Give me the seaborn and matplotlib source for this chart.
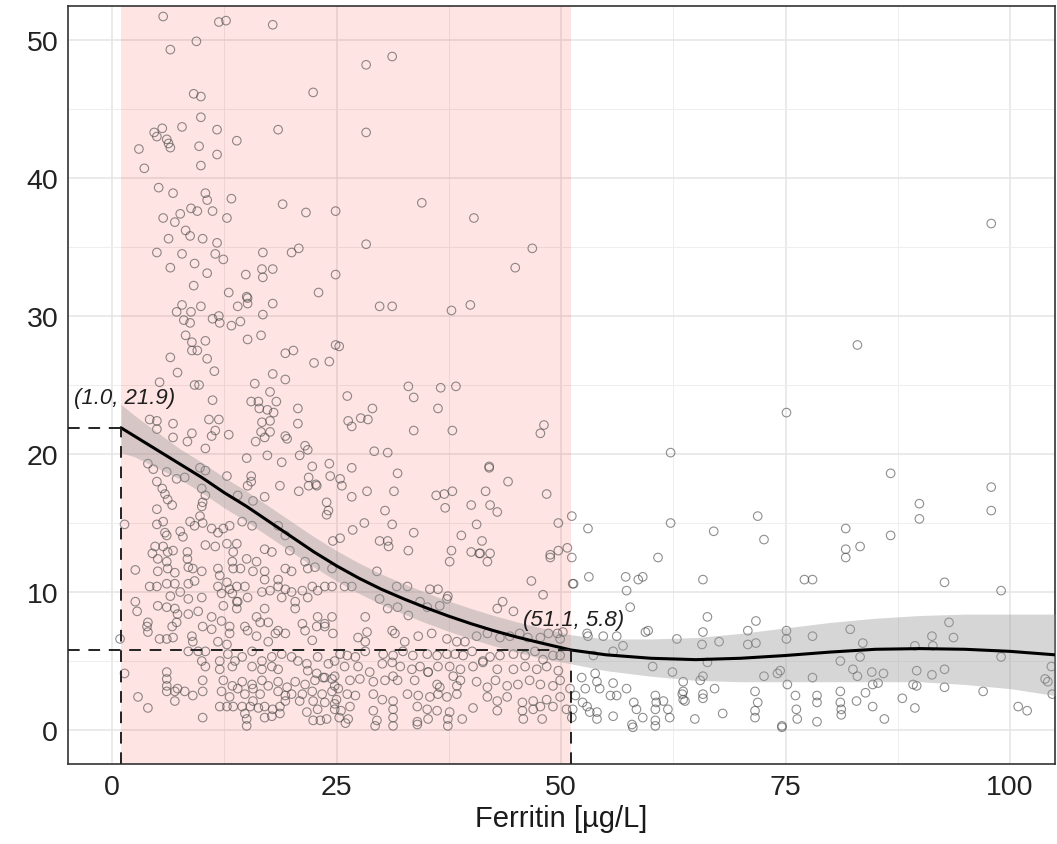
import matplotlib
matplotlib.use("Agg")
import matplotlib.pyplot as plt
import pandas as pd
import seaborn as sns

# ---------------- data ----------------
# scattered observations (ferritin, value)
pts_upper = [
    (5.7, 51.7), (11.9, 51.3), (12.7, 51.4), (17.9, 51.1), (9.4, 49.9), (6.5, 49.3), (9.1, 46.1), (9.9, 45.9),
    (22.4, 46.2), (9.9, 44.4), (5.6, 43.6), (4.7, 43.3), (5.0, 43.0), (6.1, 42.8), (6.3, 42.5), (6.5, 42.2),
    (7.8, 43.7), (11.7, 43.5), (13.9, 42.7), (18.5, 43.5), (3.0, 42.1), (9.7, 42.3), (11.7, 41.7), (3.6, 40.7),
    (9.9, 40.9), (5.2, 39.3), (6.8, 38.9), (10.4, 38.9), (10.6, 38.4), (13.3, 38.5), (19.0, 38.1), (8.8, 37.8),
    (9.5, 37.6), (7.6, 37.4), (11.2, 37.6), (21.6, 37.5), (24.9, 37.6), (5.7, 37.1), (7.0, 36.8), (12.8, 37.1),
    (8.2, 36.2), (8.7, 35.8), (6.3, 35.6), (10.1, 35.6), (11.7, 35.3), (5.0, 34.6), (7.8, 34.5), (11.5, 34.5),
    (16.8, 34.6), (12.4, 34.1), (20.0, 34.6), (20.8, 34.9), (9.2, 33.8), (6.5, 33.5), (10.6, 33.1), (14.9, 33.0),
    (16.7, 33.4), (17.9, 33.4), (16.8, 32.8), (24.9, 33.0), (9.1, 32.2), (13.0, 31.7), (15.0, 31.4), (23.0, 31.7),
    (15.1, 31.3), (15.1, 30.9), (14.0, 30.7), (17.9, 30.9), (7.8, 30.8), (7.2, 30.3), (8.8, 30.3), (9.9, 30.7),
    (8.0, 29.7), (8.7, 29.5), (11.2, 29.8), (11.9, 30.0), (12.0, 29.5), (13.3, 29.3), (14.3, 29.6), (16.8, 30.1),
    (8.2, 28.6), (8.9, 28.1), (10.4, 28.2), (8.9, 27.5), (9.5, 27.5), (15.1, 28.3), (16.6, 28.6), (6.5, 27.0),
    (10.6, 26.9), (19.3, 27.3), (20.2, 27.5), (22.5, 26.6), (24.2, 26.7), (24.9, 27.9), (25.3, 27.8), (7.3, 25.9),
    (11.4, 26.0), (17.9, 25.8), (19.3, 25.4), (5.3, 25.2), (15.9, 25.1),
    (34.5, 38.2), (40.3, 37.1), (28.3, 35.2), (46.8, 34.9), (44.9, 33.5), (29.8, 30.7), (31.2, 30.7), (37.8, 30.4),
    (39.9, 30.8), (28.3, 48.2), (31.2, 48.8), (28.3, 43.3), (97.9, 36.7), (83.0, 27.9),
]

pts_middle = [
    (9.2, 25.0), (9.7, 25.0), (11.2, 23.9), (17.6, 24.5), (15.5, 23.8), (16.3, 23.8), (18.3, 23.8), (16.4, 23.3),
    (17.3, 23.2), (18.0, 23.0), (20.7, 23.3), (4.2, 22.5), (5.0, 22.4), (6.8, 22.2), (10.8, 22.5), (11.9, 22.5),
    (16.7, 22.3), (17.6, 22.4), (20.7, 22.2), (5.0, 21.8), (11.5, 21.7), (16.6, 21.6), (17.6, 21.6), (8.9, 21.5),
    (6.8, 21.2), (8.4, 20.9), (11.1, 21.3), (13.0, 21.4), (16.0, 20.9), (17.0, 21.2), (19.3, 21.3), (19.5, 21.1),
    (10.4, 20.4), (21.5, 20.6), (21.8, 20.3), (15.0, 19.7), (17.3, 19.9), (20.9, 19.9), (18.9, 19.4), (22.3, 19.1),
    (24.2, 19.3), (4.0, 19.3), (4.6, 18.9), (6.1, 18.7), (7.2, 18.2), (8.1, 18.3), (9.8, 19.0), (10.4, 18.8),
    (12.8, 18.4), (15.5, 18.4), (21.9, 18.3), (22.7, 17.8), (24.3, 18.4), (25.4, 18.2), (25.6, 17.7), (5.0, 18.0),
    (5.6, 17.5), (5.9, 17.1), (6.2, 16.7), (6.7, 16.3), (10.0, 17.5), (10.4, 17.0), (10.1, 16.5), (15.1, 17.7),
    (15.5, 18.0), (18.7, 17.7), (20.8, 17.3), (21.9, 17.7), (22.8, 17.7), (14.0, 17.0), (17.0, 16.9), (5.0, 16.0),
    (10.0, 16.2), (15.7, 16.6), (23.9, 16.5), (24.1, 15.9), (23.9, 15.6), (9.8, 15.5), (1.4, 14.9), (5.0, 14.9),
    (5.7, 15.1), (5.9, 14.3), (6.1, 14.1), (7.6, 14.4), (7.9, 14.0), (8.7, 15.1), (9.2, 14.8), (10.1, 15.0),
    (11.1, 14.6), (11.8, 14.3), (12.4, 14.6), (13.1, 14.8), (14.5, 15.1), (15.6, 14.8), (18.5, 14.8), (19.3, 14.1),
    (24.6, 13.7), (25.4, 13.9), (4.8, 13.3), (5.7, 13.3), (6.2, 12.9), (6.8, 13.0), (8.4, 12.9), (10.4, 13.4),
    (11.5, 13.3), (12.8, 13.5), (13.9, 13.5), (13.5, 12.9), (17.0, 13.1), (17.8, 12.9), (19.8, 13.0), (4.5, 12.8),
    (33.0, 24.9), (36.6, 24.8), (38.3, 24.9), (26.2, 24.2), (33.6, 24.1), (29.0, 23.3), (36.3, 23.3), (26.3, 22.4),
    (26.7, 22.0), (27.7, 22.6), (28.5, 22.5), (33.6, 21.7), (37.9, 21.7), (48.1, 22.1), (47.7, 21.5), (29.2, 20.2),
    (30.7, 20.1), (26.7, 19.0), (31.8, 18.6), (42.0, 19.1), (42.0, 19.0), (44.1, 18.0), (28.4, 17.3), (26.7, 16.9),
    (31.4, 17.3), (36.1, 17.0), (37.0, 17.1), (37.9, 17.3), (37.1, 16.1), (40.0, 16.3), (41.6, 17.3), (42.1, 16.3),
    (42.9, 15.8), (48.4, 17.1), (30.4, 15.9), (26.8, 14.5), (28.1, 15.0), (31.2, 14.9), (33.6, 14.3), (29.8, 13.7),
    (30.7, 13.7), (30.8, 13.3), (33.0, 13.0), (38.9, 14.1), (40.6, 14.9), (41.2, 13.7), (37.8, 13.0), (40.0, 12.9),
    (40.9, 12.8), (42.1, 12.8), (49.7, 15.0), (51.2, 15.5), (48.8, 12.7), (49.7, 13.0), (50.7, 13.2),
]

pts_low_left = [
    (5.1, 12.4), (6.1, 12.2), (6.2, 11.7), (7.0, 11.4), (8.4, 12.4), (8.5, 11.8), (2.6, 11.6), (9.0, 11.7),
    (10.0, 11.5), (5.1, 11.5), (11.8, 11.7), (12.0, 11.2), (13.4, 12.2), (13.5, 11.7), (14.3, 11.7), (15.0, 12.4),
    (15.7, 11.5), (16.1, 12.2), (17.0, 11.5), (17.0, 10.9), (18.5, 10.9), (19.3, 11.7), (20.0, 11.5), (21.5, 12.2),
    (21.8, 11.7), (22.6, 11.8), (24.5, 11.7), (4.2, 10.4), (5.0, 10.4), (6.1, 10.6), (7.0, 10.6), (8.5, 10.6),
    (9.2, 10.8), (6.5, 9.7), (7.6, 10.0), (2.6, 9.3), (2.8, 8.6), (11.8, 10.4), (12.8, 10.7), (13.1, 10.2),
    (13.9, 10.4), (14.8, 10.4), (12.2, 9.9), (13.4, 9.9), (16.7, 10.0), (17.6, 10.1), (18.5, 10.4), (19.3, 10.2),
    (20.0, 10.0), (21.2, 10.1), (22.3, 10.4), (22.9, 10.1), (23.7, 10.4), (24.5, 10.4), (18.9, 9.6), (20.4, 9.3),
    (21.8, 9.6), (8.5, 9.5), (10.0, 9.6), (14.0, 9.3), (15.1, 9.6), (5.1, 9.0), (6.1, 8.9), (7.0, 8.8),
    (7.3, 8.4), (8.5, 8.4), (9.6, 8.6), (12.4, 9.0), (13.9, 8.8), (13.9, 9.3), (11.1, 8.2), (12.2, 7.9),
    (16.1, 8.2), (17.0, 8.8), (16.5, 7.8), (17.4, 7.8), (20.4, 8.8), (21.2, 7.7), (22.9, 8.2), (23.7, 7.7),
    (24.5, 8.2), (7.2, 7.8), (6.7, 7.5), (4.0, 7.8), (3.9, 7.5), (4.0, 7.1), (10.1, 7.5), (11.1, 7.3),
    (13.1, 7.5), (13.1, 7.0), (14.8, 7.5), (15.1, 7.2), (16.1, 6.8), (19.3, 7.0), (18.5, 7.2), (21.5, 7.2),
    (22.3, 6.5), (22.8, 7.5), (23.7, 7.5), (24.6, 7.0), (5.3, 6.6), (6.1, 6.6), (6.8, 6.7), (8.9, 6.8),
    (9.0, 6.4), (11.8, 6.4), (12.8, 6.2), (17.4, 6.4), (18.2, 7.0), (0.9, 6.6), (8.5, 5.7), (9.6, 5.7),
    (10.4, 5.7), (10.0, 5.0), (10.4, 4.6), (12.0, 5.0), (12.9, 5.5), (13.7, 5.0), (14.5, 5.3), (15.6, 5.7),
    (12.0, 4.4), (13.4, 4.6), (16.7, 5.0), (17.8, 5.3), (18.9, 5.5), (20.0, 5.3), (15.6, 4.6), (16.7, 4.4),
    (17.8, 4.6), (18.5, 4.4), (20.7, 5.0), (21.7, 4.8), (22.9, 5.3), (24.1, 4.8), (24.8, 5.0), (21.8, 4.3),
    (22.8, 4.1), (23.7, 3.8), (24.5, 3.7), (1.4, 4.1), (6.1, 4.2), (6.1, 3.7), (6.1, 3.2), (6.1, 2.8),
    (7.0, 2.8), (7.3, 3.0), (8.1, 2.8), (9.0, 2.5), (10.1, 3.6), (10.1, 2.8), (7.0, 2.1), (2.9, 2.4),
    (4.0, 1.6), (10.1, 0.9), (12.4, 3.6), (13.4, 3.2), (14.5, 3.5), (15.6, 3.3), (16.7, 3.6), (12.2, 2.8),
    (13.1, 2.4), (14.0, 3.0), (14.8, 2.6), (15.7, 3.0), (15.7, 2.1), (16.5, 2.6), (17.4, 3.2), (18.5, 3.5),
    (19.5, 3.1), (20.4, 3.5), (21.5, 3.3), (22.6, 3.6), (23.5, 3.8), (24.8, 3.2), (18.5, 2.8), (19.3, 2.5),
    (20.0, 2.6), (21.2, 2.6), (22.3, 2.8), (23.4, 2.6), (24.5, 2.8), (19.3, 2.1), (20.9, 2.1), (22.4, 2.1),
    (23.7, 2.0), (24.8, 1.9), (24.8, 1.5), (12.0, 1.7), (12.8, 1.7), (13.5, 1.7), (14.5, 1.7), (15.4, 1.7),
    (16.3, 1.6), (17.0, 1.7), (17.9, 1.5), (18.7, 1.7), (14.8, 1.2), (15.0, 0.8), (15.0, 0.3), (17.0, 0.9),
    (17.8, 1.0), (18.7, 1.2), (22.4, 0.7), (23.2, 0.7), (23.9, 0.8), (21.7, 1.3), (22.9, 1.5), (24.8, 3.9),
    (25.2, 3.0), (25.0, 2.2), (25.5, 1.4), (25.3, 0.9), (26.0, 0.5),
]

pts_low_right = [
    (37.6, 12.2), (41.0, 12.8), (41.8, 12.2), (48.8, 12.5), (51.2, 12.5), (29.5, 11.5), (25.9, 10.4), (26.7, 10.4),
    (31.7, 10.4), (32.9, 10.4), (35.4, 10.2), (36.3, 10.2), (37.4, 9.7), (46.7, 10.8), (48.0, 9.8), (51.3, 10.6),
    (29.8, 9.5), (30.7, 8.8), (31.8, 8.9), (33.0, 8.3), (34.3, 9.3), (35.1, 8.9), (36.5, 9.0), (37.3, 9.5),
    (42.9, 8.8), (43.5, 9.3), (44.7, 8.6), (28.2, 8.2), (28.4, 7.1), (27.4, 6.7), (28.2, 6.4), (31.2, 7.2),
    (31.5, 7.0), (32.6, 6.4), (34.1, 6.8), (35.6, 7.0), (37.3, 6.6), (38.4, 6.4), (39.3, 6.4), (40.6, 6.8),
    (41.8, 7.0), (43.2, 6.7), (44.3, 6.8), (45.4, 7.0), (46.3, 6.7), (47.7, 6.7), (48.6, 7.0), (49.6, 7.0),
    (50.2, 7.1), (49.9, 6.6), (25.4, 5.5), (26.2, 5.4), (27.1, 5.3), (28.2, 5.7), (30.2, 5.5), (31.3, 5.4),
    (32.4, 5.7), (33.5, 5.4), (35.1, 5.5), (36.2, 5.4), (37.3, 5.5), (38.2, 5.5), (39.1, 5.4), (40.1, 5.7),
    (41.3, 5.0), (42.1, 5.3), (43.2, 5.4), (44.7, 5.5), (46.0, 5.4), (47.1, 5.7), (48.0, 5.1), (49.1, 5.4),
    (49.9, 5.4), (25.9, 4.6), (27.4, 4.6), (28.7, 4.2), (30.1, 4.8), (31.2, 4.9), (32.1, 4.6), (33.4, 4.4),
    (34.3, 4.6), (35.2, 4.2), (36.3, 4.6), (37.6, 4.6), (38.8, 4.4), (40.2, 4.6), (41.3, 4.9), (42.9, 4.4),
    (44.7, 4.4), (46.0, 4.6), (47.3, 4.4), (48.4, 4.6), (49.7, 4.3), (26.5, 3.6), (27.6, 3.7), (29.1, 3.5),
    (30.4, 3.6), (31.3, 3.9), (31.8, 3.6), (33.7, 3.6), (35.2, 4.2), (36.2, 3.3), (36.5, 3.1), (38.0, 3.9),
    (38.8, 3.6), (38.4, 3.2), (40.6, 3.5), (41.8, 3.1), (42.7, 3.6), (44.0, 3.2), (45.2, 3.3), (46.5, 3.6),
    (47.7, 3.3), (49.1, 3.2), (49.9, 3.6), (26.2, 2.6), (27.1, 2.5), (29.1, 2.6), (30.1, 2.2), (31.3, 2.1),
    (32.9, 2.6), (34.1, 2.5), (35.4, 2.4), (36.3, 2.6), (37.3, 2.4), (38.4, 2.6), (41.8, 2.4), (42.9, 2.1),
    (44.0, 2.4), (45.7, 2.0), (46.9, 2.1), (48.4, 2.2), (49.9, 2.4), (26.5, 1.7), (29.1, 1.4), (31.3, 1.5),
    (34.0, 1.7), (35.1, 1.5), (36.2, 1.4), (37.6, 1.3), (40.2, 1.6), (42.9, 1.4), (45.7, 1.4), (46.9, 1.5),
    (47.7, 1.7), (49.1, 1.7), (50.6, 1.5), (26.3, 0.8), (29.5, 0.7), (31.3, 0.9), (34.0, 0.6), (35.2, 0.8),
    (37.4, 0.8), (39.0, 0.8), (45.8, 0.8), (47.9, 0.8), (29.3, 0.3), (31.3, 0.3), (34.0, 0.4), (37.4, 0.3),
]

pts_right = [
    (62.2, 20.1), (62.2, 15.0), (53.0, 14.6), (60.8, 12.5), (51.4, 10.6), (53.1, 11.1), (57.2, 11.1), (58.6, 10.9),
    (59.1, 11.1), (57.3, 10.1), (57.7, 8.9), (75.1, 23.0), (86.7, 18.6), (97.9, 17.6), (97.9, 15.9), (89.9, 16.4),
    (89.9, 15.3), (86.7, 14.1), (71.9, 15.5), (72.6, 13.8), (67.0, 14.4), (81.7, 14.6), (81.7, 13.1), (81.7, 12.5),
    (83.3, 13.3), (65.8, 10.9), (77.1, 10.9), (78.0, 10.9), (92.7, 10.7), (99.0, 10.1), (66.3, 8.2), (65.8, 7.1),
    (65.7, 6.2), (67.6, 6.4), (71.7, 7.9), (70.8, 7.2), (70.8, 6.2), (71.7, 6.3), (75.1, 7.2), (75.1, 6.6),
    (78.0, 6.8), (82.2, 7.3), (83.6, 6.3), (91.3, 6.8), (93.2, 7.8), (93.7, 6.7), (89.4, 6.1), (91.4, 6.1),
    (81.1, 5.0), (83.3, 5.3), (99.0, 5.3), (66.3, 4.9), (63.6, 3.5), (63.6, 2.8), (63.8, 2.1), (65.5, 3.6),
    (65.8, 3.9), (67.1, 3.0), (65.8, 2.6), (65.8, 2.3), (64.9, 0.8), (68.0, 1.2), (71.6, 2.8), (71.9, 2.0),
    (71.6, 1.4), (71.6, 0.9), (72.6, 3.9), (74.1, 4.1), (74.4, 4.3), (75.2, 3.3), (74.6, 0.3), (74.6, 0.2),
    (76.1, 2.5), (76.2, 1.5), (76.3, 0.8), (78.0, 3.8), (78.5, 2.5), (78.5, 2.0), (78.5, 0.6), (81.1, 2.8),
    (81.1, 2.0), (81.2, 1.5), (81.2, 1.1), (82.5, 4.4), (83.0, 3.9), (82.9, 2.1), (83.9, 2.7), (84.7, 1.7),
    (84.6, 4.2), (85.9, 4.1), (84.7, 3.3), (85.3, 3.4), (86.0, 0.8), (88.0, 2.3), (89.2, 3.3), (89.6, 3.2),
    (89.6, 4.3), (89.4, 1.6), (91.3, 4.0), (92.7, 4.4), (92.7, 3.1), (97.0, 2.8), (100.9, 1.7), (101.9, 1.4),
    (103.9, 3.7), (104.2, 3.5), (104.7, 2.6), (104.6, 4.6), (52.9, 7.0), (53.0, 6.8), (54.7, 6.8), (56.2, 6.8),
    (59.4, 7.1), (59.7, 7.2), (62.9, 6.6), (60.2, 4.6), (62.4, 4.2), (53.8, 4.1), (52.3, 3.8), (55.8, 3.4),
    (54.0, 3.5), (54.3, 3.0), (52.7, 3.0), (57.3, 3.0), (56.2, 2.5), (55.5, 2.5), (52.4, 2.0), (52.9, 1.7),
    (53.2, 1.3), (54.0, 1.3), (54.0, 0.8), (58.1, 2.0), (58.4, 1.5), (58.0, 0.2), (57.9, 0.4), (59.1, 0.9),
    (60.5, 2.5), (60.6, 2.0), (60.5, 1.5), (60.5, 0.7), (60.5, 0.3), (61.4, 2.1), (61.9, 1.5), (62.1, 0.9),
    (63.5, 2.6), (63.6, 2.2), (55.8, 1.0), (51.3, 1.5), (51.2, 0.9), (51.0, 3.0), (51.6, 2.5), (53.6, 5.4),
    (55.8, 5.7), (56.9, 6.1),
]

# fitted smooth curve and its confidence band
curve_x = [1.0, 2.5, 5, 7.5, 10, 12.5, 15, 17.5, 20, 22.5, 25, 27.5, 30, 32.5, 35, 37.5, 40, 42.5, 45, 47.5,
           51.1, 55, 60, 65, 70, 75, 80, 85, 90, 95, 100, 105]
curve_y = [21.9, 21.3, 20.3, 19.3, 18.3, 17.2, 16.2, 15.1, 14.0, 12.9, 11.9, 11.0, 10.2, 9.5, 8.85, 8.25, 7.7,
           7.2, 6.75, 6.35, 5.8, 5.45, 5.2, 5.1, 5.2, 5.4, 5.65, 5.85, 5.9, 5.85, 5.7, 5.45]
curve_lo = [20.1, 19.8, 19.0, 18.2, 17.2, 16.1, 15.1, 14.0, 12.9, 11.8, 10.8, 9.9, 9.1, 8.4, 7.75, 7.15, 6.6,
            6.1, 5.65, 5.25, 4.8, 4.3, 3.9, 3.6, 3.5, 3.5, 3.5, 3.5, 3.5, 3.3, 3.0, 2.5]
curve_hi = [23.6, 22.8, 21.6, 20.4, 19.4, 18.3, 17.3, 16.2, 15.1, 14.0, 13.0, 12.1, 11.3, 10.6, 9.95, 9.35, 8.8,
            8.3, 7.85, 7.45, 6.9, 6.6, 6.6, 6.7, 7.0, 7.4, 7.8, 8.1, 8.3, 8.4, 8.4, 8.4]

knot_low = (1.0, 21.9)
knot_high = (51.1, 5.8)

x_ticks = [0, 25, 50, 75, 100]
y_ticks = [0, 10, 20, 30, 40, 50]
x_minor = [12.5, 37.5, 62.5, 87.5]
y_minor = [5, 15, 25, 35, 45]
x_label = "Ferritin [µg/L]"

# ---------------- drawing ----------------
sns.set_theme(style="white")
plt.rcParams["font.family"] = ["Liberation Sans", "DejaVu Sans"]

df = pd.DataFrame(pts_upper + pts_middle + pts_low_left + pts_low_right + pts_right,
                  columns=["ferritin", "value"])

fig = plt.figure(figsize=(10.57, 8.45), dpi=100)
ax = fig.add_axes([0.0643, 0.0947, 0.9338, 0.897])

xlim = (-4.9, 105.0)
ylim = (-2.46, 52.46)

ax.set_xticks(x_ticks)
ax.set_yticks(y_ticks)
ax.set_xticks(x_minor, minor=True)
ax.set_yticks(y_minor, minor=True)
ax.grid(True, which="major", color="#e4e4e4", linewidth=1.1, zorder=0)
ax.grid(True, which="minor", color="#eeeeee", linewidth=0.7, zorder=0)
ax.set_axisbelow(True)

# highlighted ferritin range
ax.axvspan(knot_low[0], knot_high[0], color="#ff0000", alpha=0.105, lw=0, zorder=1)

sns.scatterplot(data=df, x="ferritin", y="value", ax=ax, marker="o", s=38,
                facecolor="none", edgecolor="#4a4a4a", linewidth=0.8, alpha=0.62,
                zorder=2, legend=False)

ax.fill_between(curve_x, curve_lo, curve_hi, color="#999999", alpha=0.4, lw=0, zorder=3)
sns.lineplot(x=curve_x, y=curve_y, ax=ax, color="black", linewidth=2.2, zorder=4,
             sort=False, estimator=None)

dash = (0, (6, 4.5))
for kx, ky in (knot_low, knot_high):
    ax.hlines(ky, xmin=xlim[0], xmax=kx, colors="#222222", linestyles=dash, linewidth=1.4, zorder=5)
    ax.vlines(kx, ymin=ylim[0], ymax=ky, colors="#222222", linestyles=dash, linewidth=1.4, zorder=5)
    ax.text(kx + 0.35, ky + 2.2, f"({kx:.1f}, {ky:.1f})", ha="center", va="center",
            fontsize=16, fontstyle="italic", color="#1e1e1e", zorder=6)

ax.set_xlim(*xlim)
ax.set_ylim(*ylim)
ax.set_xlabel(x_label, fontsize=21, color="#1a1a1a", labelpad=3)
ax.set_ylabel("")

for side in ("left", "right", "top", "bottom"):
    ax.spines[side].set_visible(True)
    ax.spines[side].set_color("#333333")
    ax.spines[side].set_linewidth(1.2)

ax.tick_params(axis="both", which="major", length=4, width=1.1, color="#333333",
               labelsize=20.5, labelcolor="#222222", pad=3)
ax.tick_params(axis="both", which="minor", length=0)

fig.savefig("out.png", dpi=100)
